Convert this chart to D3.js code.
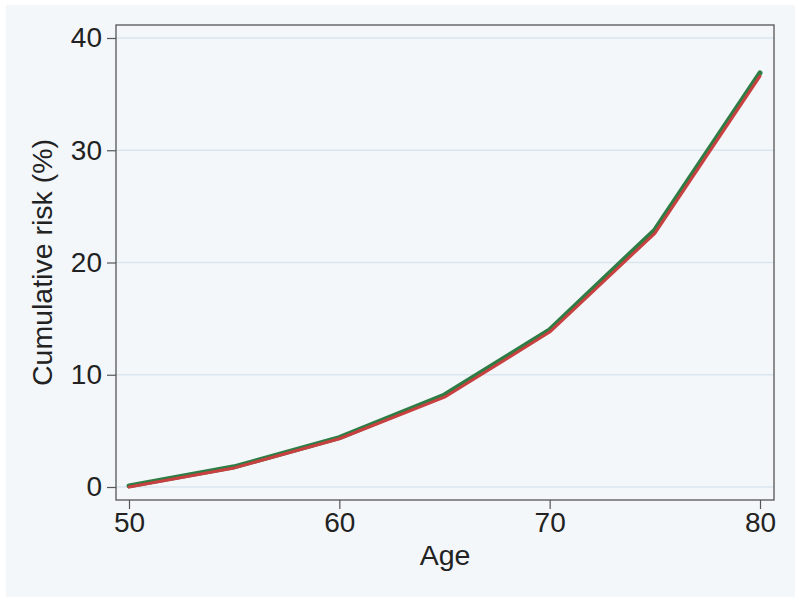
<!DOCTYPE html>
<html>
<head>
<meta charset="utf-8">
<script src="https://cdn.jsdelivr.net/npm/d3@7"></script>
<style>
  body { margin: 0; background: #fff; }
  svg { display: block; font-family: "Liberation Sans", Arial, sans-serif; }
</style>
</head>
<body>
<svg width="800" height="603"></svg>
<script>
const ages = [50, 55, 60, 65, 70, 75, 80]
const riskGreen = [0.1, 1.8, 4.4, 8.2, 14.0, 22.9, 36.9]
const riskRed = [0.0, 1.7, 4.3, 8.0, 13.8, 22.6, 36.6]
const xTicks = [50, 60, 70, 80]
const yTicks = [0, 10, 20, 30, 40]

const svg = d3.select('svg')
const plot = {left: 116, top: 25, right: 774, bottom: 500}

// outer graph region
svg.append('rect')
	.attr('x', 6).attr('y', 5).attr('width', 789).attr('height', 592)
	.attr('fill', '#f3f7fa')

const x = d3.scaleLinear().domain([50, 80]).range([129, 760])
const y = d3.scaleLinear().domain([0, 40]).range([487, 38])

// gridlines
svg.append('g')
	.selectAll('line')
	.data(yTicks)
	.join('line')
	.attr('x1', plot.left).attr('x2', plot.right)
	.attr('y1', d => y(d)).attr('y2', d => y(d))
	.attr('stroke', '#dbe5ee')
	.attr('stroke-width', 1.5)

// plot border
svg.append('rect')
	.attr('x', plot.left).attr('y', plot.top)
	.attr('width', plot.right - plot.left).attr('height', plot.bottom - plot.top)
	.attr('fill', 'none')
	.attr('stroke', '#555')
	.attr('stroke-width', 1.3)

const yAxis = svg.append('g')
	.attr('transform', `translate(${plot.left},0)`)
	.call(d3.axisLeft(y).tickValues(yTicks).tickSize(9).tickPadding(5))
yAxis.select('.domain').remove()

const xAxis = svg.append('g')
	.attr('transform', `translate(0,${plot.bottom})`)
	.call(d3.axisBottom(x).tickValues(xTicks).tickSize(9).tickPadding(3))
xAxis.select('.domain').remove()

svg.selectAll('.tick line').attr('stroke', '#555').attr('stroke-width', 1.2)
svg.selectAll('.tick text')
	.attr('fill', '#222')
	.style('font-size', '28px')
	.style('font-family', '"Liberation Sans", Arial, sans-serif')

// axis titles
svg.append('text')
	.attr('transform', `translate(52,${(plot.top + plot.bottom) / 2}) rotate(-90)`)
	.attr('text-anchor', 'middle')
	.attr('fill', '#222')
	.style('font-size', '28.5px')
	.text('Cumulative risk (%)')

svg.append('text')
	.attr('x', (plot.left + plot.right) / 2)
	.attr('y', 565)
	.attr('text-anchor', 'middle')
	.attr('fill', '#222')
	.style('font-size', '28.5px')
	.text('Age')

const line = vals => d3.line()
	.x((d, i) => x(ages[i]))
	.y(d => y(d))(vals)

svg.append('path')
	.attr('d', line(riskGreen))
	.attr('fill', 'none')
	.attr('stroke', '#2e7d45')
	.attr('stroke-width', 5)
	.attr('stroke-linecap', 'round')
	.attr('stroke-linejoin', 'round')

svg.append('path')
	.attr('d', line(riskRed))
	.attr('fill', 'none')
	.attr('stroke', '#c8403f')
	.attr('stroke-width', 3)
	.attr('stroke-linecap', 'round')
	.attr('stroke-linejoin', 'round')
</script>
</body>
</html>
